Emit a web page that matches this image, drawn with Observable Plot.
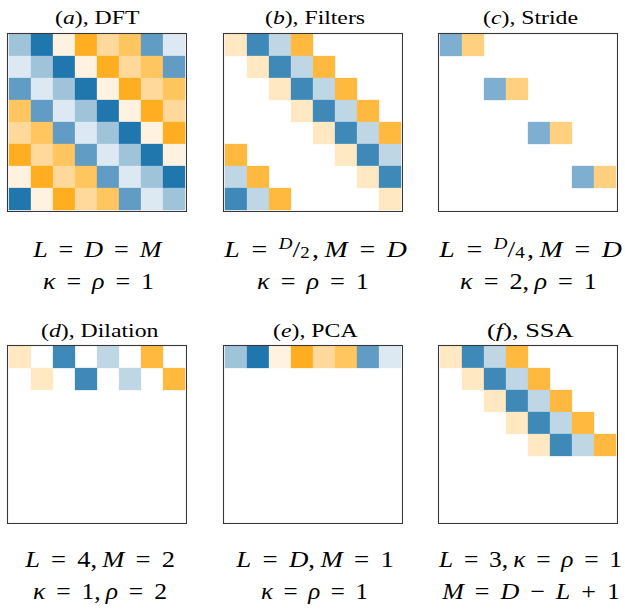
<!DOCTYPE html>
<html>
<head>
<meta charset="utf-8">
<script src="https://cdn.jsdelivr.net/npm/d3@7"></script>
<script src="https://cdn.jsdelivr.net/npm/@observablehq/plot@0.6"></script>
<style>
  body { margin: 0; background: #fff; }
  #wrap { position: relative; width: 625px; height: 611px; overflow: hidden; }
  #wrap > div.panel { position: absolute; }
  #wrap svg.plot { display: block; background: transparent; }
  #txt { position: absolute; left: 0; top: 0; pointer-events: none; }
</style>
</head>
<body>
<div id="wrap"></div>
<script>
// ---------- data ----------
const D = 8;
const dftRow = [-0.4, -1, 0.1, 1, 0.5, 0.75, -0.7, -0.15];   // first row of the DFT matrix, by column
const filterKernel = [0.25, -0.8, -0.3, 0.85];                // filter taps (Filters, Dilation, SSA)
const strideKernel = [-0.55, 0.55];                           // taps in the Stride panel
const colorValues = [-1, -0.8, -0.7, -0.55, -0.4, -0.3, -0.15, 0.1, 0.25, 0.5, 0.55, 0.75, 0.85, 1];
const colorRange  = ["#1f77ae", "#3f89b8", "#609cc4", "#7fafd0", "#9fc4da", "#bfd7e4", "#dde9f2",
                     "#fff2e0", "#ffe8c2", "#ffd99b", "#ffd07f", "#ffc55e", "#ffb93f", "#ffae22"];
const titles = [["a", "DFT"], ["b", "Filters"], ["c", "Stride"], ["d", "Dilation"], ["e", "PCA"], ["f", "SSA"]];

// ---------- matrices ----------
const idx = d3.range(D);
const cellsA = idx.flatMap(r => idx.map(j => ({row: r, col: j, v: dftRow[(j - r + D) % D]})));
const cellsB = idx.flatMap(r => filterKernel.map((v, k) => ({row: r, col: (r + k) % D, v})));
const cellsC = d3.range(D / 2).flatMap(i => strideKernel.map((v, k) => ({row: 2 * i, col: 2 * i + k, v})));
const cellsD = [0, 1].flatMap(r => filterKernel.map((v, k) => ({row: r, col: r + 2 * k, v})));
const cellsE = idx.map(j => ({row: 0, col: j, v: dftRow[j]}));
const cellsF = d3.range(D - 3).flatMap(r => filterKernel.map((v, k) => ({row: r, col: r + k, v})));
const panels = [cellsA, cellsB, cellsC, cellsD, cellsE, cellsF];

// ---------- layout ----------
const boxX = [7, 223, 438], boxY = [33, 345], boxW = 179, boxH = 178;
const wrap = document.getElementById("wrap");

function panel(cells) {
  return Plot.plot({
    width: boxW + 2, height: boxH + 2, margin: 1,
    x: {domain: idx, axis: null, padding: 0},
    y: {domain: idx, axis: null, padding: 0},
    color: {type: "ordinal", domain: colorValues, range: colorRange},
    marks: [
      Plot.cell(cells, {x: "col", y: "row", fill: "v", inset: -0.15}),
      Plot.frame({stroke: "#383838", strokeWidth: 1.1})
    ]
  });
}

panels.forEach((cells, i) => {
  const div = document.createElement("div");
  div.className = "panel";
  div.style.left = (boxX[i % 3] - 1) + "px";
  div.style.top = (boxY[Math.floor(i / 3)] - 1) + "px";
  const svg = panel(cells);
  svg.classList.add("plot");
  div.appendChild(svg);
  wrap.appendChild(div);
});

// ---------- text (titles + formulas) ----------
const SERIF = "'Liberation Serif', 'Times New Roman', Times, serif";
const I = s => `<tspan font-style="italic">${s}</tspan>`;
const EQ = " = ", C = ",\u2009";
const frac = n => `<tspan font-style="italic" font-size="16" dy="-7.5">D</tspan><tspan dy="7.5">/</tspan><tspan font-size="16" dy="1.5">${n}</tspan><tspan dy="-1.5">\u200A</tspan>`;
const formulas = [
  [`${I("L")}${EQ}${I("D")}${EQ}${I("M")}`, `${I("κ")}${EQ}${I("ρ")}${EQ}1`],
  [`${I("L")}${EQ}${frac(2)}${C}${I("M")}${EQ}${I("D")}`, `${I("κ")}${EQ}${I("ρ")}${EQ}1`],
  [`${I("L")}${EQ}${frac(4)}${C}${I("M")}${EQ}${I("D")}`, `${I("κ")}${EQ}2${C}${I("ρ")}${EQ}1`],
  [`${I("L")}${EQ}4${C}${I("M")}${EQ}2`, `${I("κ")}${EQ}1${C}${I("ρ")}${EQ}2`],
  [`${I("L")}${EQ}${I("D")}${C}${I("M")}${EQ}1`, `${I("κ")}${EQ}${I("ρ")}${EQ}1`],
  [`${I("L")}${EQ}3${C}${I("κ")}${EQ}${I("ρ")}${EQ}1`, `${I("M")}${EQ}${I("D")} − ${I("L")} + 1`]
];
// measured extents in the reference: [centre x, width] per panel
const titleFit = [[97.5, 85], [315, 100], [530.5, 95], [100, 118], [315.5, 85], [530.5, 87]];
const line1Fit = [[97.5, 131], [315, 184], [530, 184], [99.5, 151], [314.5, 159], [530, 184]];
const line2Fit = [[98.5, 111], [313, 112], [528.5, 137], [100, 134], [314.5, 107], [530.5, 179]];
const titleBase = [24.3, 336.7], f1Base = [256.7, 566.7], f2Base = [289.3, 598.5];

const overlay = document.createElementNS("http://www.w3.org/2000/svg", "svg");
overlay.setAttribute("id", "txt");
overlay.setAttribute("width", 625);
overlay.setAttribute("height", 611);
wrap.appendChild(overlay);

function addText(html, size, fit, baseY, ws) {
  const el = document.createElementNS("http://www.w3.org/2000/svg", "text");
  el.setAttribute("x", 0);
  el.setAttribute("y", 0);
  el.setAttribute("text-anchor", "middle");
  el.setAttribute("font-size", size);
  el.setAttribute("font-family", SERIF);
  el.setAttribute("fill", "#000");
  el.setAttribute("xml:space", "preserve");
  el.style.wordSpacing = ws + "px";
  el.innerHTML = html;
  overlay.appendChild(el);
  const bb = el.getBBox();
  const sx = bb.width > 0 ? fit[1] / bb.width : 1;
  const cx = bb.x + bb.width / 2;  // offset of glyph centre from anchor
  el.setAttribute("transform", `translate(${fit[0]},${baseY}) scale(${sx},1) translate(${-cx},0)`);
}

titles.forEach(([letter, name], i) => {
  const rr = Math.floor(i / 3);
  addText(`(${I(letter)}), ${name}`, 19, titleFit[i], titleBase[rr], 0);
  addText(formulas[i][0], 23.5, line1Fit[i], f1Base[rr], 4);
  addText(formulas[i][1], 23.5, line2Fit[i], f2Base[rr], 4);
});
</script>
</body>
</html>
